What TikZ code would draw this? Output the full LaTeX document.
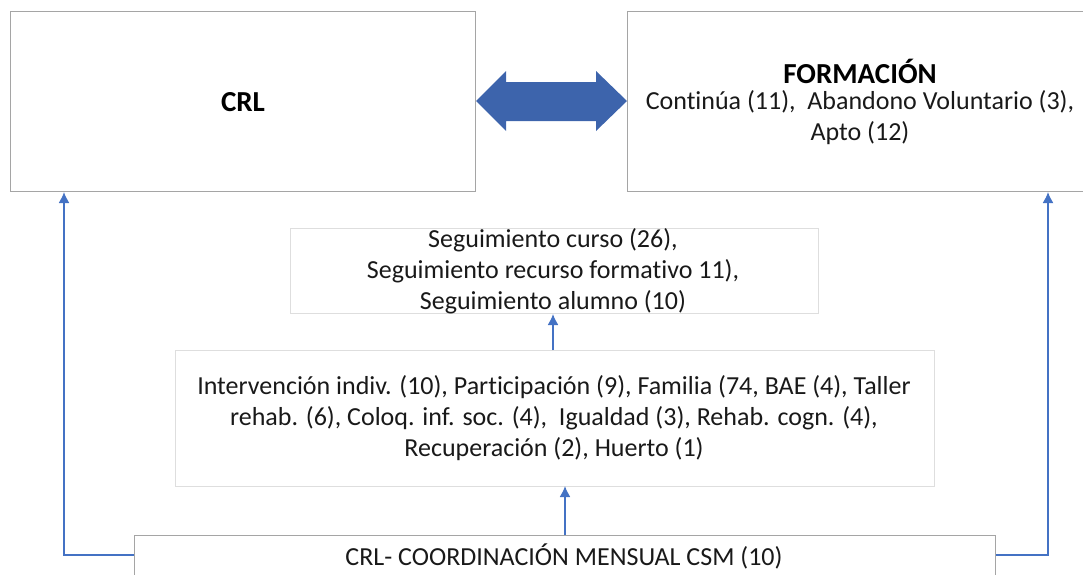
\documentclass[tikz,border=0pt]{standalone}
\usepackage{fontspec}
\setmainfont[Ligatures=NoCommon]{Carlito}
\usetikzlibrary{calc,arrows.meta}
\definecolor{boxgray}{RGB}{165,165,165}
\definecolor{lightgray2}{RGB}{222,222,222}
\definecolor{arrowblue}{RGB}{68,114,196}
\definecolor{darkblue}{RGB}{61,100,172}
\tikzset{
  bigbox/.style={draw=boxgray, line width=1pt, inner sep=0pt, anchor=north west},
  softbox/.style={draw=lightgray2, line width=1pt, inner sep=0pt, anchor=north west},
  conn/.style={draw=arrowblue, line width=1.6pt, -{Latex[length=11pt,width=11pt]}},
  txt/.style={font=\fontsize{26}{31}\selectfont, align=center, text=black!90},
  ttl/.style={font=\fontsize{29}{31}\selectfont\bfseries, text=black},
}
\begin{document}
\begin{tikzpicture}[x=1pt,y=-1pt]
\useasboundingbox (0,0) rectangle (1083,574);
\clip (0,0) rectangle (1083,574);
% boxes
\node[bigbox, minimum width=465pt, minimum height=180pt] (crl) at (10,11) {};
\node[bigbox, minimum width=470pt, minimum height=180pt] (form) at (627,11) {};
\node[softbox, minimum width=528pt, minimum height=85pt] (seg) at (290,228) {};
\node[softbox, minimum width=759pt, minimum height=136pt] (int) at (175,350) {};
\node[bigbox, minimum width=861pt, minimum height=60pt] (coord) at (134,535) {};
% texts
\node[ttl] (crlt) at (243,102) {CRL};
\node[ttl] (formt) at (860,71) {FORMACIÓN};
\node[txt] (formd) at (860,118) {Continúa (11),\ \ Abandono Voluntario (3),\\Apto (12)};
\node[txt] (segt) at (553,271) {Seguimiento curso (26),\\Seguimiento recurso formativo 11),\\Seguimiento alumno (10)};
\node[txt] (intt) at (554,418) {Intervención indiv. (10), Participación (9), Familia (74, BAE (4), Taller\\rehab. (6), Coloq. inf. soc. (4),\ \ Igualdad (3), Rehab. cogn. (4),\\Recuperación (2), Huerto (1)};
\node[txt, anchor=center] (coordt) at (564,556) {CRL- COORDINACIÓN MENSUAL CSM (10)};
% double arrow
\fill[darkblue] (crl.east |- 0,101) -- (506,71) -- (506,82) -- (596,82) -- (596,71)
  -- (form.west |- 0,101) -- (596,131) -- (596,121) -- (506,121) -- (506,131) -- cycle;
% connectors
\coordinate (lc) at (64,555);
\coordinate (rc) at (1048,555);
\draw[conn] (coord.west |- lc) -- (lc) -- (lc |- crl.south);
\draw[conn] (coord.east |- rc) -- (rc) -- (rc |- form.south);
\draw[conn] (coord.north -| 565,0) -- (565,486);
\draw[conn] (int.north -| 553,0) -- (seg.south -| 553,0);
\end{tikzpicture}
\end{document}
